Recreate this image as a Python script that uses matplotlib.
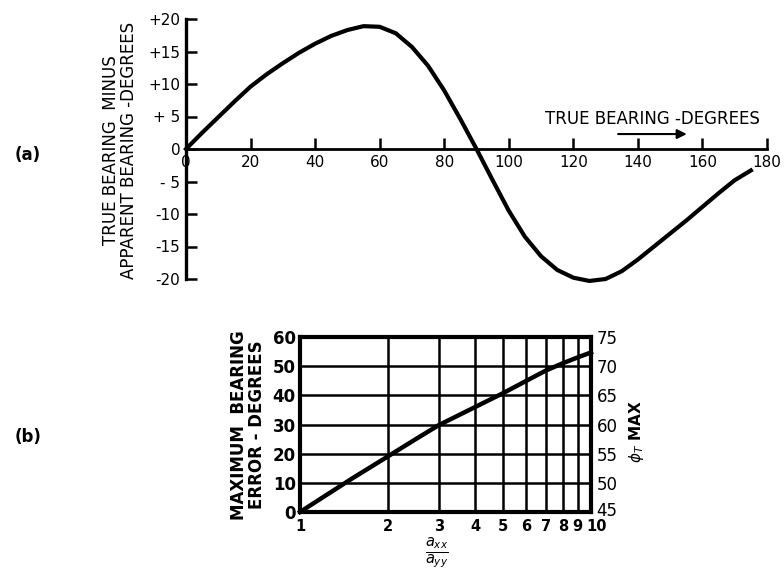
import matplotlib
matplotlib.use("Agg")
import matplotlib.pyplot as plt
from matplotlib.ticker import NullLocator
from matplotlib.transforms import ScaledTranslation

# (a) bearing error vs true bearing
bearing = [0, 5, 10, 15, 20, 25, 30, 35, 40, 45, 50, 55, 60, 65, 70, 75, 80, 85, 90,
           95, 100, 105, 110, 115, 120, 125, 130, 135, 140, 145, 150, 155, 160, 165, 170, 175]
bearing_err = [0, 2.5, 4.9, 7.3, 9.6, 11.5, 13.2, 14.8, 16.2, 17.4, 18.3, 18.9, 18.8, 17.8, 15.7, 12.8, 9.0, 4.6, 0,
               -4.8, -9.5, -13.5, -16.5, -18.6, -19.8, -20.3, -20.0, -18.8, -17.0, -15.0, -13.0, -11.0, -8.9, -6.8, -4.8, -3.3]
x_ticks_a = [0, 20, 40, 60, 80, 100, 120, 140, 160, 180]
y_ticks_a = [-20, -15, -10, -5, 0, 5, 10, 15, 20]
y_labels_a = ['-20', '-15', '-10', '- 5', '0', '+ 5', '+10', '+15', '+20']

# (b) maximum bearing error vs axx/ayy
ratio = [1, 1.5, 2, 2.5, 3, 4, 5, 6, 7, 8, 9, 10]
max_err = [0, 11.3, 19.0, 25.0, 29.8, 36.0, 40.8, 45.0, 48.5, 51.0, 53.0, 54.7]
x_ticks_b = [1, 2, 3, 4, 5, 6, 7, 8, 9, 10]
y_ticks_b = [0, 10, 20, 30, 40, 50, 60]
phi_ticks = [45, 50, 55, 60, 65, 70, 75]

W, H = 784, 570
fig = plt.figure(figsize=(W / 100, H / 100), dpi=100)

# ---- top chart
ax1 = fig.add_axes([186 / W, 1 - 279 / H, 581 / W, 260 / H])
ax1.plot(bearing, bearing_err, color='black', lw=3, clip_on=False, solid_joinstyle='round')
ax1.set_xlim(0, 180)
ax1.set_ylim(-20, 20)
ax1.spines['top'].set_visible(False)
ax1.spines['right'].set_visible(False)
ax1.spines['bottom'].set_position(('data', 0))
ax1.spines['left'].set_linewidth(2.4)
ax1.spines['bottom'].set_linewidth(2.0)
ax1.set_xticks(x_ticks_a)
ax1.set_xticklabels([str(v) for v in x_ticks_a])
ax1.set_yticks(y_ticks_a)
ax1.set_yticklabels(y_labels_a)
ax1.tick_params(direction='in', length=8, width=1.8, labelsize=11, pad=4)

ax1.text(144.5, 4.6, 'TRUE BEARING -DEGREES', ha='center', va='center', fontsize=12)
ax1.annotate('', xy=(156, 2.3), xytext=(133, 2.3),
             arrowprops=dict(arrowstyle='-|>', color='black', lw=1.5, mutation_scale=14))

fig.text(120 / W, 1 - 150 / H, 'TRUE BEARING  MINUS\nAPPARENT BEARING -DEGREES',
         rotation=90, ha='center', va='center', multialignment='center',
         fontsize=12, linespacing=1.0)
fig.text(28 / W, 1 - 155 / H, '(a)', ha='center', va='center', fontsize=12, fontweight='bold')

# ---- bottom chart
ax2 = fig.add_axes([300 / W, 1 - 512 / H, 291 / W, 175 / H])
ax2.set_xscale('log')
ax2.plot(ratio, max_err, color='black', lw=3.2, clip_on=False, solid_joinstyle='round')
ax2.set_xlim(1, 10)
ax2.set_ylim(0, 60)
ax2.xaxis.set_minor_locator(NullLocator())
ax2.set_xticks(x_ticks_b)
ax2.set_xticklabels([str(v) for v in x_ticks_b], fontweight='bold', fontsize=10.5)
ax2.set_yticks(y_ticks_b)
ax2.set_yticklabels([str(v) for v in y_ticks_b], fontweight='bold')
ax2.grid(True, color='black', lw=1.8)
for s in ax2.spines.values():
    s.set_linewidth(3)
ax2.tick_params(axis='y', length=0, labelsize=12, pad=3)
ax2.tick_params(axis='x', length=0, pad=5)
# nudge "10" right so it clears "9"
lab10 = ax2.get_xticklabels()[-1]
lab10.set_transform(lab10.get_transform() + ScaledTranslation(4 / 72, 0, fig.dpi_scale_trans))

ax3 = ax2.twinx()
ax3.set_ylim(45, 75)
ax3.set_yticks(phi_ticks)
ax3.set_yticklabels([str(v) for v in phi_ticks])
ax3.tick_params(length=0, labelsize=12, pad=4)
for s in ax3.spines.values():
    s.set_visible(False)
lab45 = ax3.get_yticklabels()[0]
lab45.set_transform(lab45.get_transform() + ScaledTranslation(0, 2 / 72, fig.dpi_scale_trans))

fig.text(248 / W, 1 - 425 / H, 'MAXIMUM  BEARING\nERROR - DEGREES', rotation=90,
         ha='center', va='center', multialignment='center', fontsize=12,
         fontweight='bold', linespacing=1.0)
fig.text(637 / W, 1 - 432 / H, r'$\phi_T$ MAX', rotation=90, ha='center', va='center',
         fontsize=11, fontweight='bold')
fig.text(437 / W, 1 - 553 / H, r'$\frac{a_{xx}}{a_{yy}}$', ha='center', va='center', fontsize=15)
fig.text(28 / W, 1 - 437 / H, '(b)', ha='center', va='center', fontsize=12, fontweight='bold')

fig.savefig('out.png', dpi=100)
